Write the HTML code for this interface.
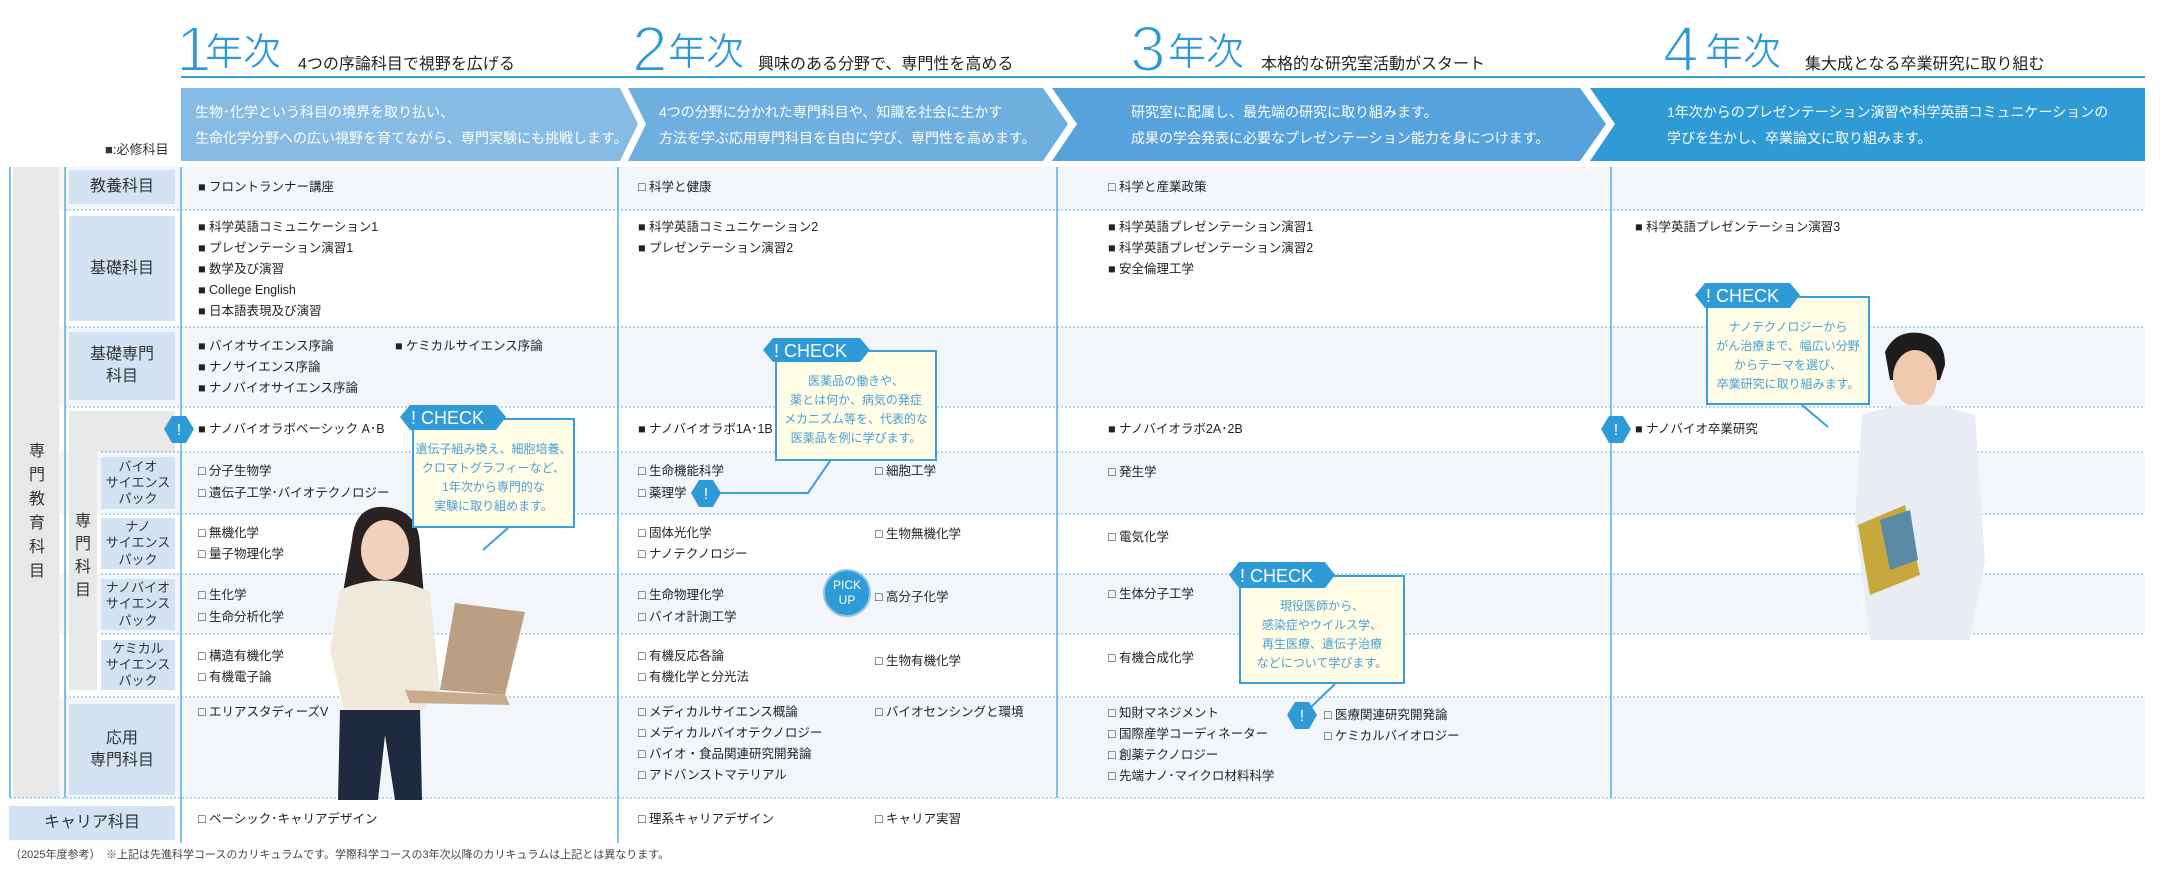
<!DOCTYPE html>
<html><head><meta charset="utf-8">
<style>
*{margin:0;padding:0;box-sizing:border-box}
body{width:2165px;height:873px;background:#fff;position:relative;overflow:hidden;font-family:"Liberation Sans","Noto Sans CJK JP",sans-serif;color:#222}
.a{position:absolute;white-space:nowrap}
.it{position:absolute;white-space:nowrap;font-size:12.5px;line-height:18px;color:#222}
.lab{position:absolute;background:#d3e3f4;color:#333;font-size:16px;display:flex;align-items:center;justify-content:center;text-align:center;line-height:1.35}
.pk{font-size:13px;line-height:1.25}
.bt{position:absolute;color:#fff;font-size:14px;line-height:26px;white-space:nowrap}
.cb{position:absolute;background:#fffde6;border:2px solid #3a9fd8;color:#4a9fd6;font-size:12px;line-height:19px;text-align:center;white-space:nowrap}
.yn{position:absolute;color:#2d9ad6;font-size:64px;line-height:64px;top:17px;-webkit-text-stroke:2px #fff}
.yk{position:absolute;color:#2d9ad6;font-size:38px;line-height:40px;top:33px;-webkit-text-stroke:0.6px #fff}
.ys{position:absolute;color:#222;font-size:16px;top:50px}
</style></head><body>

<div class="yn" style="left:176px">1</div><div class="yk" style="left:205px">年次</div><div class="ys" style="left:298px">4つの序論科目で視野を広げる</div>
<div class="yn" style="left:632px">2</div><div class="yk" style="left:668px">年次</div><div class="ys" style="left:758px">興味のある分野で、専門性を高める</div>
<div class="yn" style="left:1130px">3</div><div class="yk" style="left:1168px">年次</div><div class="ys" style="left:1261px">本格的な研究室活動がスタート</div>
<div class="yn" style="left:1663px">4</div><div class="yk" style="left:1705px">年次</div><div class="ys" style="left:1805px">集大成となる卒業研究に取り組む</div>
<div class="a" style="left:181px;top:76px;width:1964px;height:2px;background:#3a9fd8"></div>

<svg class="a" style="left:0;top:0" width="2165" height="873">
<polygon points="181,88 620,88 638,124 620,161 181,161" fill="#86bbe4"/>
<polygon points="628,88 1043,88 1068,124 1043,161 628,161 646,124" fill="#6eafe0"/>
<polygon points="1052,88 1580,88 1606,124 1580,161 1052,161 1077,124" fill="#55a2dc"/>
<polygon points="1590,88 2145,88 2145,161 1590,161 1615,124" fill="#2e9ad6"/>
<rect x="52" y="167" width="2093" height="43" fill="#f2f6fb"/>
<rect x="52" y="327" width="2093" height="80" fill="#f2f6fb"/>
<rect x="52" y="452" width="2093" height="62" fill="#f2f6fb"/>
<rect x="52" y="574" width="2093" height="60" fill="#f2f6fb"/>
<rect x="52" y="697" width="2093" height="101" fill="#f2f6fb"/>
<rect x="13" y="167" width="46" height="631" fill="#e8e8e8"/>
<rect x="69" y="411" width="106" height="41" fill="#e8e8e8"/>
<rect x="69" y="411" width="28" height="279" fill="#e8e8e8"/>
<g stroke="#6ab3de" stroke-width="1" stroke-dasharray="2,2">
<line x1="65" y1="210" x2="2145" y2="210"/>
<line x1="65" y1="327" x2="2145" y2="327"/>
<line x1="65" y1="407" x2="2145" y2="407"/>
<line x1="101" y1="452" x2="2145" y2="452"/>
<line x1="101" y1="514" x2="2145" y2="514"/>
<line x1="101" y1="574" x2="2145" y2="574"/>
<line x1="101" y1="634" x2="2145" y2="634"/>
<line x1="65" y1="697" x2="2145" y2="697"/>
<line x1="10" y1="798" x2="2145" y2="798"/>
</g>
<g stroke="#5aaedc" stroke-width="1.5">
<line x1="10" y1="167" x2="10" y2="798"/>
<line x1="65" y1="167" x2="65" y2="798"/>
<line x1="181" y1="167" x2="181" y2="843"/>
<line x1="618" y1="167" x2="618" y2="843"/>
<line x1="1057" y1="167" x2="1057" y2="798"/>
<line x1="1611" y1="167" x2="1611" y2="798"/>
</g>
</svg>

<div class="bt" style="left:195px;top:99px">生物･化学という科目の境界を取り払い、<br>生命化学分野への広い視野を育てながら、専門実験にも挑戦します。</div>
<div class="bt" style="left:659px;top:99px">4つの分野に分かれた専門科目や、知識を社会に生かす<br>方法を学ぶ応用専門科目を自由に学び、専門性を高めます。</div>
<div class="bt" style="left:1131px;top:99px">研究室に配属し、最先端の研究に取り組みます。<br>成果の学会発表に必要なプレゼンテーション能力を身につけます。</div>
<div class="bt" style="left:1667px;top:99px">1年次からのプレゼンテーション演習や科学英語コミュニケーションの<br>学びを生かし、卒業論文に取り組みます。</div>
<div class="a" style="left:105px;top:139px;font-size:13px;color:#333">■:必修科目</div>

<div class="lab" style="left:69px;top:170px;width:106px;height:34px">教養科目</div>
<div class="lab" style="left:69px;top:216px;width:106px;height:105px">基礎科目</div>
<div class="lab" style="left:69px;top:332px;width:106px;height:68px">基礎専門<br>科目</div>
<div class="lab pk" style="left:101px;top:457px;width:74px;height:52px">バイオ<br>サイエンス<br>パック</div>
<div class="lab pk" style="left:101px;top:518px;width:74px;height:51px">ナノ<br>サイエンス<br>パック</div>
<div class="lab pk" style="left:101px;top:579px;width:74px;height:51px">ナノバイオ<br>サイエンス<br>パック</div>
<div class="lab pk" style="left:101px;top:640px;width:74px;height:50px">ケミカル<br>サイエンス<br>パック</div>
<div class="lab" style="left:69px;top:704px;width:106px;height:91px">応用<br>専門科目</div>
<div class="lab" style="left:9px;top:806px;width:166px;height:34px">キャリア科目</div>
<div class="a" style="left:26px;top:440px;width:22px;font-size:16px;line-height:24px;white-space:normal;color:#333;text-align:center">専<br>門<br>教<br>育<br>科<br>目</div>
<div class="a" style="left:73px;top:510px;width:20px;font-size:16px;line-height:23px;white-space:normal;color:#333;text-align:center">専<br>門<br>科<br>目</div>

<div class="it" style="left:198px;top:178px">■ フロントランナー講座</div>
<div class="it" style="left:198px;top:218px">■ 科学英語コミュニケーション1</div>
<div class="it" style="left:198px;top:239px">■ プレゼンテーション演習1</div>
<div class="it" style="left:198px;top:260px">■ 数学及び演習</div>
<div class="it" style="left:198px;top:281px">■ College English</div>
<div class="it" style="left:198px;top:302px">■ 日本語表現及び演習</div>
<div class="it" style="left:198px;top:337px">■ バイオサイエンス序論</div>
<div class="it" style="left:395px;top:337px">■ ケミカルサイエンス序論</div>
<div class="it" style="left:198px;top:358px">■ ナノサイエンス序論</div>
<div class="it" style="left:198px;top:379px">■ ナノバイオサイエンス序論</div>
<div class="it" style="left:198px;top:420px">■ ナノバイオラボベーシック A･B</div>
<div class="it" style="left:198px;top:462px">□ 分子生物学</div>
<div class="it" style="left:198px;top:484px">□ 遺伝子工学･バイオテクノロジー</div>
<div class="it" style="left:198px;top:524px">□ 無機化学</div>
<div class="it" style="left:198px;top:545px">□ 量子物理化学</div>
<div class="it" style="left:198px;top:586px">□ 生化学</div>
<div class="it" style="left:198px;top:608px">□ 生命分析化学</div>
<div class="it" style="left:198px;top:647px">□ 構造有機化学</div>
<div class="it" style="left:198px;top:668px">□ 有機電子論</div>
<div class="it" style="left:198px;top:703px">□ エリアスタディーズV</div>
<div class="it" style="left:198px;top:810px">□ ベーシック･キャリアデザイン</div>

<div class="it" style="left:638px;top:178px">□ 科学と健康</div>
<div class="it" style="left:638px;top:218px">■ 科学英語コミュニケーション2</div>
<div class="it" style="left:638px;top:239px">■ プレゼンテーション演習2</div>
<div class="it" style="left:638px;top:420px">■ ナノバイオラボ1A･1B</div>
<div class="it" style="left:638px;top:462px">□ 生命機能科学</div>
<div class="it" style="left:638px;top:484px">□ 薬理学</div>
<div class="it" style="left:875px;top:462px">□ 細胞工学</div>
<div class="it" style="left:638px;top:524px">□ 固体光化学</div>
<div class="it" style="left:638px;top:545px">□ ナノテクノロジー</div>
<div class="it" style="left:875px;top:525px">□ 生物無機化学</div>
<div class="it" style="left:638px;top:586px">□ 生命物理化学</div>
<div class="it" style="left:638px;top:608px">□ バイオ計測工学</div>
<div class="it" style="left:875px;top:588px">□ 高分子化学</div>
<div class="it" style="left:638px;top:647px">□ 有機反応各論</div>
<div class="it" style="left:638px;top:668px">□ 有機化学と分光法</div>
<div class="it" style="left:875px;top:652px">□ 生物有機化学</div>
<div class="it" style="left:638px;top:703px">□ メディカルサイエンス概論</div>
<div class="it" style="left:638px;top:724px">□ メディカルバイオテクノロジー</div>
<div class="it" style="left:638px;top:745px">□ バイオ・食品関連研究開発論</div>
<div class="it" style="left:638px;top:766px">□ アドバンストマテリアル</div>
<div class="it" style="left:875px;top:703px">□ バイオセンシングと環境</div>
<div class="it" style="left:638px;top:810px">□ 理系キャリアデザイン</div>
<div class="it" style="left:875px;top:810px">□ キャリア実習</div>

<div class="it" style="left:1108px;top:178px">□ 科学と産業政策</div>
<div class="it" style="left:1108px;top:218px">■ 科学英語プレゼンテーション演習1</div>
<div class="it" style="left:1108px;top:239px">■ 科学英語プレゼンテーション演習2</div>
<div class="it" style="left:1108px;top:260px">■ 安全倫理工学</div>
<div class="it" style="left:1108px;top:420px">■ ナノバイオラボ2A･2B</div>
<div class="it" style="left:1108px;top:463px">□ 発生学</div>
<div class="it" style="left:1108px;top:528px">□ 電気化学</div>
<div class="it" style="left:1108px;top:585px">□ 生体分子工学</div>
<div class="it" style="left:1108px;top:649px">□ 有機合成化学</div>
<div class="it" style="left:1108px;top:704px">□ 知財マネジメント</div>
<div class="it" style="left:1108px;top:725px">□ 国際産学コーディネーター</div>
<div class="it" style="left:1108px;top:746px">□ 創薬テクノロジー</div>
<div class="it" style="left:1108px;top:767px">□ 先端ナノ･マイクロ材料科学</div>
<div class="it" style="left:1324px;top:706px">□ 医療関連研究開発論</div>
<div class="it" style="left:1324px;top:727px">□ ケミカルバイオロジー</div>

<div class="it" style="left:1635px;top:218px">■ 科学英語プレゼンテーション演習3</div>
<div class="it" style="left:1635px;top:420px">■ ナノバイオ卒業研究</div>

<div class="a" style="left:10px;top:846px;font-size:11px;color:#444">（2025年度参考）　※上記は先進科学コースのカリキュラムです。学際科学コースの3年次以降のカリキュラムは上記とは異なります。</div>

<svg class="a" style="left:0;top:0" width="2165" height="873">
<path d="M352,540 Q355,505 385,507 Q420,510 420,548 L425,610 Q400,625 385,600 Q360,625 340,610 Z" fill="#2a2220"/>
<ellipse cx="385" cy="550" rx="24" ry="30" fill="#f1d0bd"/>
<path d="M340,590 Q385,570 430,592 L440,690 L418,715 L345,715 L330,650 Z" fill="#efe9dc"/>
<path d="M340,710 L420,710 L422,800 L395,800 L385,735 L378,800 L338,800 Z" fill="#1f2a40"/>
<polygon points="455,603 525,612 505,695 440,690" fill="#bc9e82"/>
<polygon points="405,690 505,695 510,705 410,703" fill="#c8ab8d"/>
<path d="M1885,352 Q1895,330 1920,333 Q1945,337 1945,365 L1940,380 L1890,380 Z" fill="#1c1c1c"/>
<ellipse cx="1915" cy="378" rx="22" ry="28" fill="#f0c9ae"/>
<path d="M1862,415 Q1915,395 1975,415 L1985,560 L1970,640 L1870,640 L1855,520 Z" fill="#e9ecf3"/>
<polygon points="1858,525 1905,505 1920,575 1870,595" fill="#c7a83c"/>
<polygon points="1880,520 1910,510 1918,560 1890,570" fill="#5b8aa5"/>
<line x1="508" y1="528" x2="483" y2="550" stroke="#3a9fd8" stroke-width="2"/>
<polyline points="830,461 808,493 720,493" fill="none" stroke="#3a9fd8" stroke-width="2"/>
<line x1="1335" y1="684" x2="1310" y2="708" stroke="#3a9fd8" stroke-width="2"/>
<line x1="1802" y1="405" x2="1828" y2="427" stroke="#3a9fd8" stroke-width="2"/>
<g fill="#2e9ad6">
<polygon points="172,416 186,416 194,429 186,443 172,443 164,429"/>
<polygon points="699,480 713,480 721,493 713,507 699,507 691,493"/>
<polygon points="1295,702 1309,702 1317,715 1309,729 1295,729 1287,715"/>
<polygon points="1609,416 1623,416 1631,429 1623,443 1609,443 1601,429"/>
</g>
<g fill="#fff" font-size="16" text-anchor="middle" font-family="Liberation Sans, sans-serif">
<text x="179" y="435">!</text><text x="706" y="499">!</text><text x="1302" y="721">!</text><text x="1616" y="435">!</text>
</g>
<circle cx="847" cy="593" r="23" fill="#2e9ad6" stroke="#8cc6ea" stroke-width="2"/>
<text x="847" y="589" fill="#fff" font-size="12" text-anchor="middle" font-family="Liberation Sans, sans-serif">PICK</text>
<text x="847" y="604" fill="#fff" font-size="12" text-anchor="middle" font-family="Liberation Sans, sans-serif">UP</text>
</svg>

<div class="cb" style="left:412px;top:418px;width:163px;height:110px;padding-top:20px">遺伝子組み換え、細胞培養、<br>クロマトグラフィーなど、<br>1年次から専門的な<br>実験に取り組めます。</div>
<div class="cb" style="left:775px;top:350px;width:162px;height:111px;padding-top:20px">医薬品の働きや、<br>薬とは何か、病気の発症<br>メカニズム等を、代表的な<br>医薬品を例に学びます。</div>
<div class="cb" style="left:1239px;top:575px;width:166px;height:109px;padding-top:20px">現役医師から、<br>感染症やウイルス学、<br>再生医療、遺伝子治療<br>などについて学びます。</div>
<div class="cb" style="left:1706px;top:296px;width:164px;height:109px;padding-top:20px">ナノテクノロジーから<br>がん治療まで、幅広い分野<br>からテーマを選び、<br>卒業研究に取り組みます。</div>

<svg class="a" style="left:0;top:0" width="2165" height="873">
<g fill="#2e9ad6">
<polygon points="410,405 496,405 506,417 496,430 410,430 400,417"/>
<polygon points="773,338 860,338 870,350 860,362 773,362 763,350"/>
<polygon points="1239,562 1325,562 1335,575 1325,588 1239,588 1229,575"/>
<polygon points="1705,283 1790,283 1800,295 1790,308 1705,308 1695,295"/>
</g>
<g fill="#fff" font-size="18" font-family="Liberation Sans, sans-serif">
<text x="411" y="424">! CHECK</text>
<text x="774" y="357">! CHECK</text>
<text x="1240" y="582">! CHECK</text>
<text x="1706" y="302">! CHECK</text>
</g>
</svg>
</body></html>
